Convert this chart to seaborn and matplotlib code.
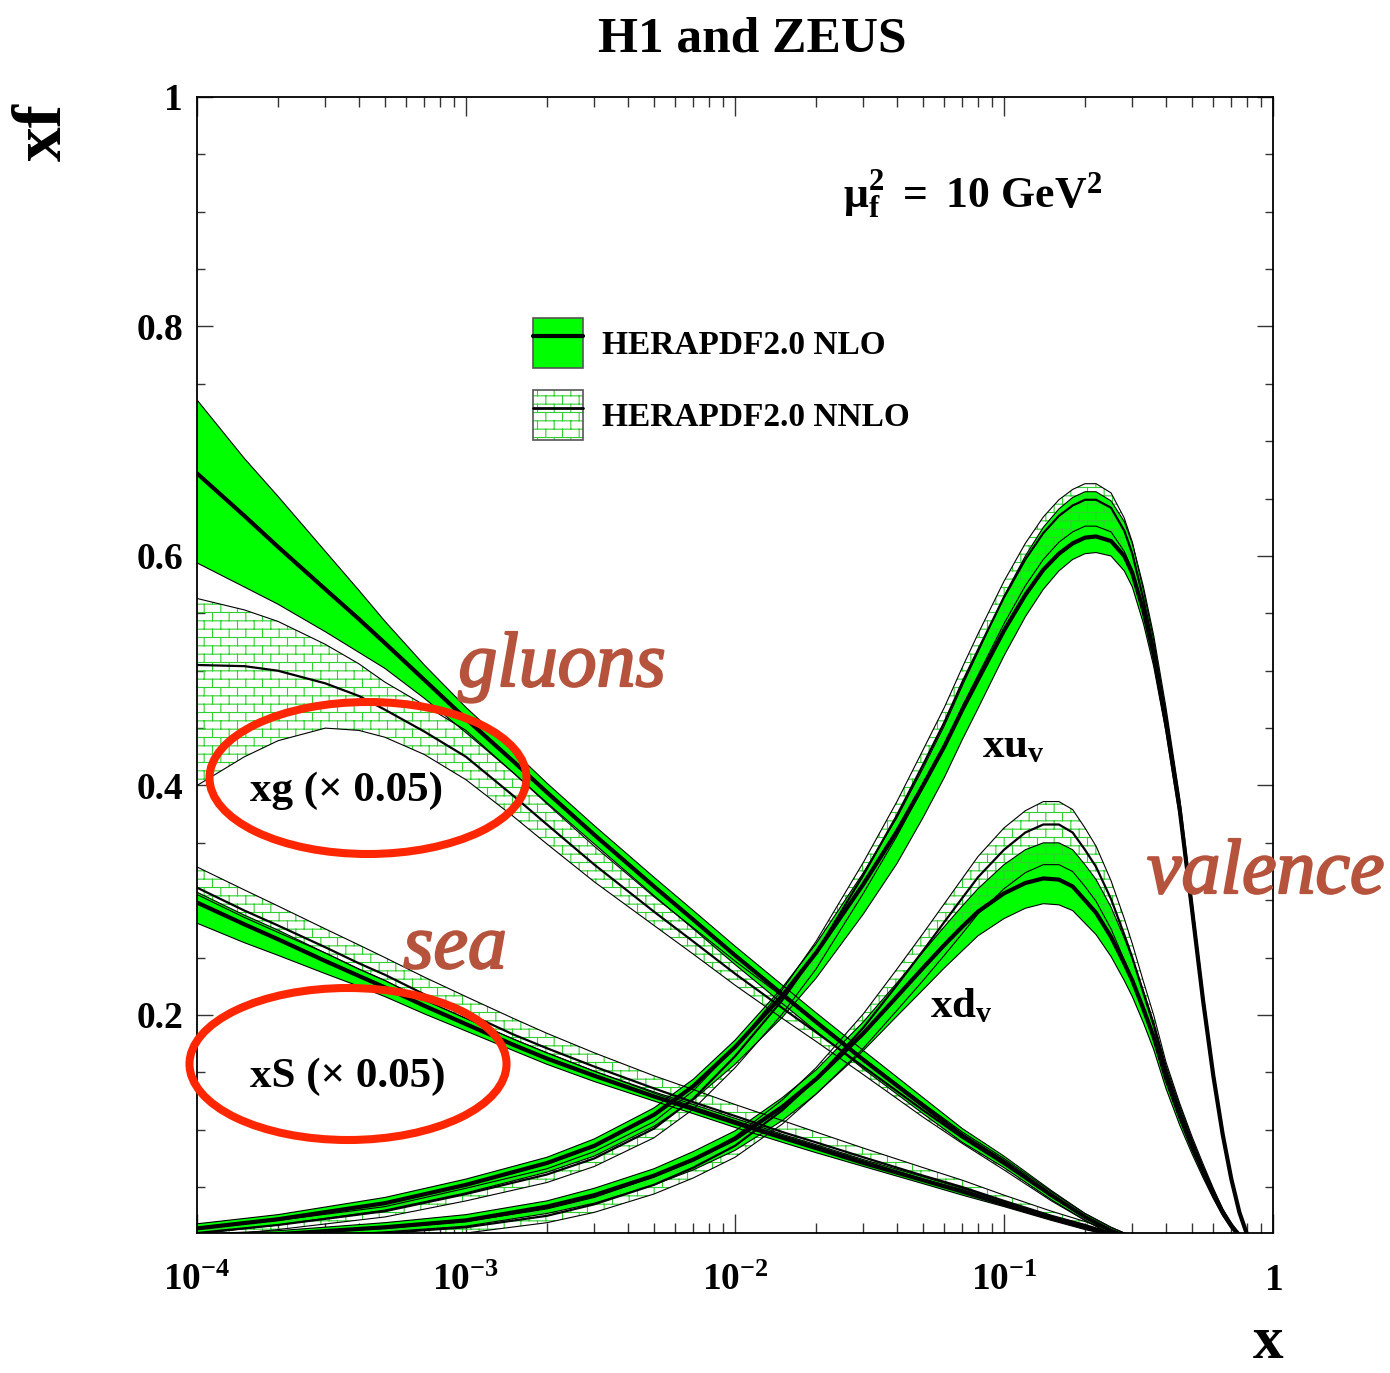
import warnings
warnings.filterwarnings("ignore")

import numpy as np
import pandas as pd
import matplotlib
matplotlib.use("Agg")
import matplotlib.pyplot as plt
import matplotlib.patheffects as pe
import seaborn as sns
from matplotlib import hatch as mhatch
from matplotlib.path import Path
from matplotlib.patches import Ellipse, Patch
from matplotlib.lines import Line2D
from matplotlib.legend_handler import HandlerTuple
from matplotlib.ticker import FixedLocator, FixedFormatter, LogLocator, MultipleLocator, NullFormatter

# ------------------------------------------------------------------
# Parton distributions at mu_f^2 = 10 GeV^2 (gluon and sea scaled by 0.05)
# central values with upper / lower uncertainties
# ------------------------------------------------------------------
x_gs = [1e-4, 1.5e-4, 2e-4, 3e-4, 4e-4, 5e-4, 7e-4, 1e-3, 1.5e-3, 2e-3, 3e-3,
        5e-3, 7e-3, 0.01, 0.015, 0.02, 0.03, 0.05, 0.07, 0.1, 0.15, 0.2, 0.25,
        0.3, 0.4]

glu_nlo = [0.672, 0.635, 0.608, 0.571, 0.545, 0.524, 0.492, 0.458, 0.421, 0.394,
           0.357, 0.312, 0.283, 0.252, 0.218, 0.194, 0.161, 0.121, 0.095, 0.072,
           0.043, 0.024, 0.012, 0.005, 0.000]
glu_nlo_up = [0.064, 0.050, 0.044, 0.033, 0.025, 0.019, 0.013, 0.010, 0.009, 0.008,
              0.008, 0.008, 0.008, 0.008, 0.008, 0.008, 0.008, 0.007, 0.006, 0.005,
              0.004, 0.003, 0.003, 0.002, 0.000]
glu_nlo_dn = [0.078, 0.062, 0.050, 0.037, 0.029, 0.022, 0.016, 0.012, 0.010, 0.009,
              0.008, 0.008, 0.008, 0.008, 0.008, 0.008, 0.008, 0.007, 0.006, 0.005,
              0.004, 0.003, 0.003, 0.002, 0.000]
glu_nnlo = [0.505, 0.504, 0.500, 0.489, 0.478, 0.466, 0.447, 0.425, 0.391, 0.366,
            0.331, 0.290, 0.264, 0.236, 0.206, 0.185, 0.155, 0.117, 0.093, 0.070,
            0.042, 0.024, 0.012, 0.005, 0.000]
glu_nnlo_up = [0.058, 0.049, 0.043, 0.034, 0.028, 0.024, 0.023, 0.023, 0.020, 0.018,
               0.016, 0.013, 0.012, 0.011, 0.010, 0.008, 0.007, 0.006, 0.005, 0.005,
               0.004, 0.003, 0.003, 0.002, 0.000]
glu_nnlo_dn = [0.105, 0.079, 0.061, 0.039, 0.030, 0.024, 0.020, 0.020, 0.018, 0.017,
               0.015, 0.012, 0.011, 0.010, 0.009, 0.008, 0.007, 0.006, 0.005, 0.005,
               0.004, 0.003, 0.003, 0.002, 0.000]

sea_nlo = [0.298, 0.279, 0.266, 0.247, 0.234, 0.224, 0.208, 0.192, 0.174, 0.162,
           0.147, 0.129, 0.118, 0.106, 0.093, 0.084, 0.071, 0.056, 0.046, 0.035,
           0.023, 0.015, 0.009, 0.004, 0.000]
sea_nlo_up = [0.009, 0.008, 0.008, 0.007, 0.006, 0.006, 0.005, 0.005, 0.005, 0.005,
              0.004, 0.004, 0.004, 0.004, 0.003, 0.003, 0.003, 0.003, 0.003, 0.002,
              0.002, 0.002, 0.001, 0.001, 0.000]
sea_nlo_dn = [0.018, 0.016, 0.014, 0.011, 0.009, 0.008, 0.007, 0.006, 0.005, 0.005,
              0.005, 0.004, 0.004, 0.004, 0.004, 0.004, 0.003, 0.003, 0.003, 0.002,
              0.002, 0.002, 0.001, 0.001, 0.000]
sea_nnlo = [0.311, 0.291, 0.278, 0.259, 0.245, 0.235, 0.218, 0.202, 0.183, 0.171,
            0.155, 0.136, 0.124, 0.112, 0.098, 0.089, 0.076, 0.060, 0.050, 0.038,
            0.025, 0.017, 0.010, 0.005, 0.000]
sea_nnlo_up = [0.018, 0.018, 0.017, 0.016, 0.016, 0.015, 0.015, 0.014, 0.014, 0.013,
               0.012, 0.011, 0.011, 0.010, 0.010, 0.009, 0.008, 0.007, 0.006, 0.005,
               0.004, 0.003, 0.002, 0.001, 0.000]
sea_nnlo_dn = [0.006, 0.006, 0.006, 0.005, 0.005, 0.005, 0.005, 0.005, 0.004, 0.004,
               0.004, 0.004, 0.004, 0.004, 0.003, 0.003, 0.003, 0.003, 0.002, 0.002,
               0.002, 0.001, 0.001, 0.001, 0.000]

x_val = [1e-4, 2e-4, 5e-4, 1e-3, 2e-3, 3e-3, 5e-3, 7e-3, 0.01, 0.015, 0.02, 0.03,
         0.04, 0.05, 0.06, 0.07, 0.08, 0.1, 0.12, 0.14, 0.16, 0.18, 0.2, 0.22,
         0.25, 0.28, 0.3, 0.33, 0.36, 0.4, 0.45, 0.5, 0.55, 0.6, 0.65, 0.7, 0.75,
         0.8, 0.85]

xu_nlo = [0.014, 0.022, 0.036, 0.052, 0.071, 0.086, 0.113, 0.138, 0.172, 0.217,
          0.254, 0.314, 0.360, 0.400, 0.434, 0.466, 0.492, 0.535, 0.566, 0.588,
          0.602, 0.611, 0.616, 0.617, 0.613, 0.600, 0.585, 0.552, 0.514, 0.455,
          0.379, 0.292, 0.212, 0.147, 0.096, 0.057, 0.028, 0.009, 0.000]
xu_nlo_up = [0.004, 0.004, 0.005, 0.005, 0.005, 0.006, 0.006, 0.006, 0.006, 0.007,
             0.008, 0.010, 0.012, 0.015, 0.018, 0.021, 0.024, 0.030, 0.034, 0.037,
             0.039, 0.040, 0.040, 0.039, 0.035, 0.030, 0.026, 0.021, 0.017, 0.013,
             0.010, 0.008, 0.006, 0.005, 0.004, 0.003, 0.002, 0.001, 0.000]
xu_nlo_dn = [0.005, 0.005, 0.006, 0.007, 0.008, 0.009, 0.010, 0.012, 0.015, 0.019,
             0.022, 0.026, 0.028, 0.028, 0.027, 0.026, 0.025, 0.022, 0.019, 0.017,
             0.015, 0.014, 0.014, 0.014, 0.013, 0.013, 0.012, 0.011, 0.010, 0.008,
             0.007, 0.006, 0.005, 0.004, 0.004, 0.003, 0.002, 0.001, 0.000]
xu_nnlo = [0.010, 0.017, 0.029, 0.044, 0.061, 0.075, 0.101, 0.127, 0.164, 0.213,
           0.254, 0.322, 0.374, 0.418, 0.455, 0.490, 0.518, 0.564, 0.597, 0.620,
           0.635, 0.644, 0.649, 0.649, 0.642, 0.622, 0.602, 0.562, 0.520, 0.458,
           0.381, 0.293, 0.212, 0.147, 0.096, 0.057, 0.028, 0.009, 0.000]
xu_nnlo_up = [0.004, 0.004, 0.004, 0.005, 0.005, 0.006, 0.006, 0.007, 0.008, 0.009,
              0.010, 0.011, 0.012, 0.013, 0.013, 0.013, 0.014, 0.014, 0.014, 0.014,
              0.014, 0.014, 0.014, 0.014, 0.013, 0.011, 0.010, 0.008, 0.007, 0.005,
              0.004, 0.003, 0.002, 0.002, 0.001, 0.001, 0.001, 0.001, 0.000]
xu_nnlo_dn = [0.004, 0.004, 0.005, 0.006, 0.007, 0.007, 0.008, 0.009, 0.010, 0.012,
              0.014, 0.016, 0.018, 0.020, 0.021, 0.021, 0.022, 0.023, 0.023, 0.023,
              0.023, 0.023, 0.023, 0.023, 0.021, 0.018, 0.014, 0.011, 0.009, 0.006,
              0.005, 0.004, 0.003, 0.002, 0.002, 0.001, 0.001, 0.001, 0.000]

xd_nlo = [0.006, 0.009, 0.015, 0.021, 0.033, 0.043, 0.060, 0.074, 0.092, 0.120,
          0.144, 0.184, 0.216, 0.241, 0.261, 0.277, 0.290, 0.306, 0.315, 0.319,
          0.318, 0.312, 0.300, 0.289, 0.268, 0.245, 0.230, 0.205, 0.181, 0.145,
          0.112, 0.085, 0.063, 0.044, 0.028, 0.016, 0.008, 0.003, 0.000]
xd_nlo_up = [0.003, 0.003, 0.004, 0.005, 0.005, 0.006, 0.006, 0.007, 0.007, 0.008,
             0.008, 0.010, 0.012, 0.014, 0.016, 0.018, 0.020, 0.025, 0.029, 0.031,
             0.032, 0.032, 0.031, 0.029, 0.026, 0.022, 0.019, 0.016, 0.013, 0.011,
             0.009, 0.007, 0.005, 0.004, 0.003, 0.002, 0.002, 0.001, 0.000]
xd_nlo_dn = [0.003, 0.003, 0.004, 0.005, 0.006, 0.007, 0.008, 0.009, 0.010, 0.012,
             0.013, 0.015, 0.017, 0.019, 0.020, 0.021, 0.021, 0.022, 0.022, 0.022,
             0.022, 0.021, 0.020, 0.019, 0.017, 0.015, 0.014, 0.012, 0.011, 0.009,
             0.008, 0.006, 0.005, 0.004, 0.003, 0.002, 0.002, 0.001, 0.000]
xd_nnlo = [0.003, 0.006, 0.010, 0.015, 0.025, 0.035, 0.052, 0.067, 0.086, 0.117,
           0.144, 0.189, 0.226, 0.256, 0.281, 0.302, 0.320, 0.344, 0.359, 0.366,
           0.366, 0.359, 0.344, 0.329, 0.301, 0.270, 0.250, 0.219, 0.191, 0.152,
           0.117, 0.089, 0.066, 0.046, 0.029, 0.017, 0.008, 0.003, 0.000]
xd_nnlo_up = [0.003, 0.003, 0.004, 0.005, 0.006, 0.006, 0.007, 0.007, 0.008, 0.009,
              0.010, 0.012, 0.014, 0.015, 0.016, 0.017, 0.018, 0.019, 0.019, 0.020,
              0.020, 0.020, 0.019, 0.018, 0.016, 0.014, 0.012, 0.010, 0.009, 0.007,
              0.006, 0.005, 0.004, 0.003, 0.002, 0.002, 0.001, 0.001, 0.000]
xd_nnlo_dn = [0.003, 0.003, 0.004, 0.005, 0.006, 0.007, 0.008, 0.009, 0.010, 0.012,
              0.013, 0.018, 0.022, 0.026, 0.029, 0.031, 0.032, 0.034, 0.035, 0.035,
              0.035, 0.034, 0.032, 0.030, 0.026, 0.022, 0.019, 0.016, 0.013, 0.010,
              0.008, 0.006, 0.005, 0.004, 0.003, 0.002, 0.001, 0.001, 0.000]

x_tick_values = [1e-4, 1e-3, 1e-2, 1e-1, 1.0]
x_tick_labels = [r"$\mathbf{10^{-4}}$", r"$\mathbf{10^{-3}}$", r"$\mathbf{10^{-2}}$",
                 r"$\mathbf{10^{-1}}$", r"$\mathbf{1}$"]
y_tick_values = [0.2, 0.4, 0.6, 0.8, 1.0]
y_tick_labels = ["0.2", "0.4", "0.6", "0.8", "1"]
legend_labels = ["HERAPDF2.0 NLO", "HERAPDF2.0 NNLO"]

# ------------------------------------------------------------------
# Styling
# ------------------------------------------------------------------
GREEN = "#00ff00"
HATCH_GREEN = "#2fd12f"
NOTE_COLOR = "#b5533c"
RING_COLOR = "#ff2600"

sns.set_theme(style="ticks")
plt.rcParams["font.family"] = ["Liberation Serif", "DejaVu Serif"]
plt.rcParams["font.weight"] = "bold"
plt.rcParams["text.color"] = "black"
plt.rcParams["axes.labelcolor"] = "black"
plt.rcParams["xtick.color"] = "black"
plt.rcParams["ytick.color"] = "black"
plt.rcParams["mathtext.fontset"] = "custom"
plt.rcParams["mathtext.rm"] = "Liberation Serif:bold"
plt.rcParams["mathtext.bf"] = "Liberation Serif:bold"
plt.rcParams["mathtext.it"] = "Liberation Serif:italic:bold"
plt.rcParams["mathtext.sf"] = "Liberation Serif"
plt.rcParams["hatch.linewidth"] = 0.8
plt.rcParams["hatch.color"] = HATCH_GREEN


class BrickHatch(mhatch.HatchPatternBase):
    """Staggered brick pattern, selected with the hatch letter 'b'."""
    ROWS = 12
    COLS = 6

    def __init__(self, hatch, density):
        self.active = "b" in hatch
        R, C = self.ROWS, self.COLS
        self.num_vertices = (2 * R + 2 * C * (R + 1)) if self.active else 0

    def set_vertices_and_codes(self, vertices, codes):
        R, C = self.ROWS, self.COLS
        ys = [(i + 0.5) / R for i in range(R)]
        segs = [((0.0, y), (1.0, y)) for y in ys]
        for i in range(R - 1):
            off = 0.5 * (i % 2)
            for j in range(C):
                xv = (j + off + 0.25) / C
                segs.append(((xv, ys[i]), (xv, ys[i + 1])))
        off = 0.5 * ((R - 1) % 2)
        for j in range(C):
            xv = (j + off + 0.25) / C
            segs.append(((xv, ys[-1]), (xv, 1.0)))
            segs.append(((xv, 0.0), (xv, ys[0])))
        for k, (a, b) in enumerate(segs):
            vertices[2 * k] = a
            vertices[2 * k + 1] = b
            codes[2 * k] = Path.MOVETO
            codes[2 * k + 1] = Path.LINETO


mhatch._hatch_types.append(BrickHatch)

W, H = 1390, 1373
fig = plt.figure(figsize=(W / 100, H / 100), dpi=100)
fig.patch.set_facecolor("white")


def fx(px):
    return px / W


def fy(py):
    return 1 - py / H


ax = fig.add_axes([fx(197), fy(1233), (1273 - 197) / W, (1233 - 97) / H])
ax.set_xscale("log")
ax.set_xlim(1e-4, 1.0)
ax.set_ylim(0.01, 1.0)
ax.set_facecolor("white")


def line(x, y, lw, z):
    sns.lineplot(x=x, y=y, ax=ax, color="black", linewidth=lw,
                 estimator=None, sort=False, zorder=z)


def draw_pdf(x, c1, up1, dn1, c2, up2, dn2):
    c1, up1, dn1 = np.asarray(c1), np.asarray(up1), np.asarray(dn1)
    c2, up2, dn2 = np.asarray(c2), np.asarray(up2), np.asarray(dn2)
    lo1, hi1 = c1 - dn1, c1 + up1
    lo2, hi2 = c2 - dn2, c2 + up2
    ax.fill_between(x, lo1, hi1, facecolor=GREEN, edgecolor="none",
                    linewidth=0, zorder=2)
    ax.fill_between(x, lo2, hi2, facecolor="none", edgecolor=HATCH_GREEN,
                    hatch="b", linewidth=0, zorder=3)
    for arr in (lo1, hi1, lo2, hi2):
        line(x, arr, 0.8, 4)
    line(x, c2, 1.6, 5)
    line(x, c1, 3.0, 6)


draw_pdf(x_gs, glu_nlo, glu_nlo_up, glu_nlo_dn, glu_nnlo, glu_nnlo_up, glu_nnlo_dn)
draw_pdf(x_gs, sea_nlo, sea_nlo_up, sea_nlo_dn, sea_nnlo, sea_nnlo_up, sea_nnlo_dn)
draw_pdf(x_val, xu_nlo, xu_nlo_up, xu_nlo_dn, xu_nnlo, xu_nnlo_up, xu_nnlo_dn)
draw_pdf(x_val, xd_nlo, xd_nlo_up, xd_nlo_dn, xd_nnlo, xd_nnlo_up, xd_nnlo_dn)

# ------------------------------------------------------------------
# Axes, ticks
# ------------------------------------------------------------------
for s in ax.spines.values():
    s.set_linewidth(1.3)
    s.set_color("black")
    s.set_zorder(10)

ax.xaxis.set_major_locator(FixedLocator(x_tick_values))
ax.xaxis.set_major_formatter(FixedFormatter(x_tick_labels))
ax.xaxis.set_minor_locator(LogLocator(base=10, subs=np.arange(2, 10), numticks=20))
ax.xaxis.set_minor_formatter(NullFormatter())
ax.yaxis.set_major_locator(FixedLocator(y_tick_values))
ax.yaxis.set_major_formatter(FixedFormatter(y_tick_labels))
ax.yaxis.set_minor_locator(MultipleLocator(0.05))

ax.tick_params(which="both", direction="in", top=True, right=True,
               color="#333333", width=1.0, labelcolor="black")
ax.tick_params(axis="x", which="major", length=14, pad=41, labelsize=27)
ax.tick_params(axis="x", which="minor", length=7)
ax.tick_params(axis="y", which="major", length=11.5, pad=10, labelsize=27)
ax.tick_params(axis="y", which="minor", length=5.8)
for lbl in ax.get_xticklabels():
    lbl.set_verticalalignment("baseline")
    lbl.set_fontweight("bold")
for lbl in ax.get_yticklabels():
    lbl.set_fontweight("bold")
ax.set_xlabel("")
ax.set_ylabel("")

# ------------------------------------------------------------------
# Titles and labels
# ------------------------------------------------------------------
fig.text(fx(752), fy(52), "H1 and ZEUS", ha="center", va="baseline",
         fontsize=37, fontweight="bold")
fig.text(fx(44), fy(132), "xf", rotation=90, ha="center", va="center",
         fontsize=50, fontweight="bold")
fig.text(fx(1268), fy(1358), "x", ha="center", va="baseline",
         fontsize=44, fontweight="bold")
fig.text(fx(843), fy(207),
         r"$\mathsf{\mu}_{\mathbf{f}}^{\mathbf{2}}\mathbf{\ =\ 10\ GeV^{2}}$",
         ha="left", va="baseline", fontsize=31.5)

# Legend
nlo_handle = (Patch(facecolor=GREEN, edgecolor="#555555", linewidth=1.2),
              Line2D([], [], color="black", linewidth=3.0))
nnlo_handle = (Patch(facecolor="white", edgecolor=HATCH_GREEN, hatch="b", linewidth=0),
               Patch(facecolor="none", edgecolor="#555555", linewidth=1.2),
               Line2D([], [], color="black", linewidth=2.0))
ax.legend([nlo_handle, nnlo_handle], legend_labels,
          handler_map={tuple: HandlerTuple(ndivide=1, pad=0)},
          loc="upper left", bbox_to_anchor=(fx(533), fy(318)),
          bbox_transform=fig.transFigure, frameon=False, borderpad=0,
          borderaxespad=0, handlelength=1.5, handleheight=1.93,
          handletextpad=0.57, labelspacing=0.66,
          prop={"family": "Liberation Serif", "weight": "bold", "size": 24})

# Curve names
fig.text(fx(250), fy(801), "xg (\u00d7 0.05)", ha="left", va="baseline",
         fontsize=31, fontweight="bold", zorder=20)
fig.text(fx(250), fy(1087), "xS (\u00d7 0.05)", ha="left", va="baseline",
         fontsize=31, fontweight="bold", zorder=20)
fig.text(fx(982), fy(757), r"$\mathbf{xu_{v}}$", ha="left", va="baseline",
         fontsize=31, zorder=20)
fig.text(fx(930), fy(1017), r"$\mathbf{xd_{v}}$", ha="left", va="baseline",
         fontsize=31, zorder=20)

# Hand-written style notes
for txt, px, py, ha in (("gluons", 562, 686, "center"),
                        ("sea", 455, 968, "center"),
                        ("valence", 1147, 893, "left")):
    fig.text(fx(px), fy(py), txt, ha=ha, va="baseline", fontsize=56,
             fontstyle="italic", fontweight="normal", color=NOTE_COLOR,
             family=["Liberation Serif", "DejaVu Serif"], zorder=20,
             path_effects=[pe.withStroke(linewidth=1.6, foreground=NOTE_COLOR)])

# Rings round the scaled distributions
for cx, cy in ((368, 778), (348, 1064)):
    fig.add_artist(Ellipse((fx(cx), fy(cy)), 317 / W, 152 / H,
                           transform=fig.transFigure, facecolor="none",
                           edgecolor=RING_COLOR, linewidth=5.8, zorder=20))

fig.savefig("out.png", dpi=100, facecolor="white")
